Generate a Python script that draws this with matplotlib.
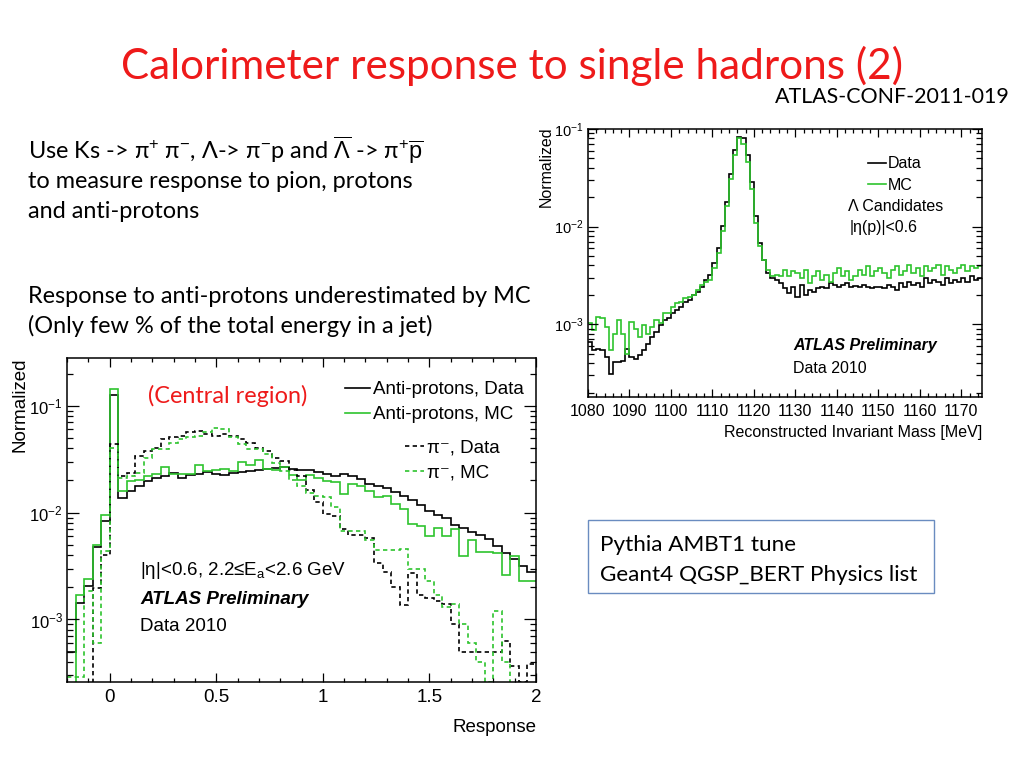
import numpy as np
import matplotlib
matplotlib.use("Agg")
import matplotlib.pyplot as plt
from matplotlib.lines import Line2D
from matplotlib.patches import Rectangle
from matplotlib.ticker import MultipleLocator, LogLocator, NullFormatter, FuncFormatter

plt.rcParams['font.family'] = ['Liberation Sans', 'DejaVu Sans']
plt.rcParams['mathtext.fontset'] = 'custom'
plt.rcParams['mathtext.rm'] = 'Liberation Sans'
plt.rcParams['mathtext.it'] = 'Liberation Sans:italic'
plt.rcParams['mathtext.bf'] = 'Liberation Sans:bold'

SLIDE_FONT = ['Lato', 'DejaVu Sans']
RED = '#ee1a1a'
GREEN = '#2ec42e'

# ---- left plot: response histograms, bins of 0.04 from -0.2 to 2.0 ----
resp_lo, resp_hi, resp_nbins = -0.2, 2.0, 55

pbar_data = [5.0e-4, 1.43e-3, 2.04e-3, 4.8e-3, 8.3e-3, 0.126, 0.0138, 0.0158, 0.0176, 0.0196,
             0.0211, 0.0219, 0.0235, 0.0211, 0.0227, 0.0232, 0.0239, 0.0232, 0.0227, 0.0235,
             0.0240, 0.0243, 0.0250, 0.0257, 0.0260, 0.0268, 0.0257, 0.0253, 0.0253, 0.0238,
             0.0228, 0.0222, 0.0228, 0.0218, 0.0205, 0.0186, 0.0179, 0.0169, 0.0157, 0.0144,
             0.0132, 0.0117, 0.0104, 0.0096, 0.0090, 0.0076, 0.0072, 0.0066, 0.0062, 0.0057,
             0.0049, 0.0042, 0.0037, 0.0032, 0.0028]

pbar_mc = [2.0e-4, 1.71e-3, 2.41e-3, 5.0e-3, 9.6e-3, 0.145, 0.0158, 0.0196, 0.0204, 0.0219,
           0.0232, 0.0268, 0.0232, 0.0232, 0.0232, 0.0282, 0.0244, 0.0250, 0.0257, 0.0244,
           0.0297, 0.0282, 0.0314, 0.0257, 0.0253, 0.0268, 0.0227, 0.0204, 0.0227, 0.0211,
           0.0199, 0.0192, 0.0149, 0.0185, 0.0179, 0.0160, 0.0139, 0.0144, 0.0120, 0.0107,
           0.0078, 0.0075, 0.0061, 0.0072, 0.0061, 0.0070, 0.0039, 0.0056, 0.0043, 0.0043,
           0.0042, 0.0026, 0.0039, 0.0023, 0.0023]

pion_data = [1e-4, 1e-4, 1e-4, 1.98e-3, 4.0e-3, 0.0437, 0.0219, 0.0235, 0.0338, 0.0377,
             0.0406, 0.0487, 0.0505, 0.0524, 0.0563, 0.0584, 0.0543, 0.0524, 0.0543, 0.0516,
             0.0487, 0.0453, 0.0406, 0.0377, 0.0326, 0.0304, 0.0253, 0.0219, 0.0164, 0.0125,
             0.0098, 0.0093, 0.0070, 0.0062, 0.0062, 0.0058, 0.0034, 0.0028, 0.0020, 0.00136,
             0.0027, 0.0017, 0.0016, 0.0015, 0.0014, 0.0009, 0.0005, 0.0005, 0.0005, 0.0005,
             0.0005, 0.00063, 0.00037, 0.00026, 0.00038]

pion_mc = [2.9e-4, 2.9e-4, 1.84e-3, 6.0e-4, 4.4e-3, 0.040, 0.0211, 0.0219, 0.0235, 0.0326,
           0.0391, 0.0391, 0.0453, 0.0487, 0.0505, 0.0524, 0.0563, 0.0614, 0.0605, 0.0505,
           0.0437, 0.0391, 0.0391, 0.0351, 0.0292, 0.0244, 0.0204, 0.0176, 0.0152, 0.0142,
           0.0139, 0.0112, 0.0067, 0.0067, 0.0067, 0.0056, 0.0045, 0.0045, 0.0045, 0.0046,
           0.0030, 0.0030, 0.0023, 0.0017, 0.0013, 0.0014, 0.0009, 0.0006, 0.0004, 0.00026,
           0.0012, 0.0004, 0.0002, 0.0002, 0.0002]

# ---- right plot: Lambda invariant mass, 1 MeV bins from 1080 ----
mass_lo, mass_nbins = 1080, 95

lambda_data = [6.6e-4, 5.4e-4, 5.6e-4, 5.4e-4, 4.6e-4, 3.1e-4, 4.1e-4, 4.1e-4, 4.2e-4, 5.6e-4,
               4.6e-4, 4.4e-4, 4.8e-4, 5.4e-4, 6.3e-4, 7.4e-4, 8.3e-4, 9.8e-4, 1.10e-3, 1.15e-3,
               1.29e-3, 1.40e-3, 1.51e-3, 1.70e-3, 1.77e-3, 2.0e-3, 2.16e-3, 2.43e-3, 2.85e-3, 3.21e-3,
               4.25e-3, 6.1e-3, 0.0102, 0.0177, 0.0348, 0.0606, 0.0834, 0.0800, 0.0538, 0.0285,
               0.0129, 6.8e-3, 4.6e-3, 3.34e-3, 2.97e-3, 2.85e-3, 2.64e-3, 2.34e-3, 2.08e-3, 2.43e-3,
               1.92e-3, 2.53e-3, 2.0e-3, 2.25e-3, 2.16e-3, 2.34e-3, 2.43e-3, 2.34e-3, 2.64e-3, 2.53e-3,
               2.43e-3, 2.53e-3, 2.64e-3, 2.43e-3, 2.47e-3, 2.39e-3, 2.53e-3, 2.43e-3, 2.34e-3, 2.43e-3,
               2.43e-3, 2.34e-3, 2.53e-3, 2.43e-3, 2.25e-3, 2.64e-3, 2.43e-3, 2.74e-3, 2.53e-3, 2.64e-3,
               2.43e-3, 2.97e-3, 2.64e-3, 2.85e-3, 2.74e-3, 2.53e-3, 2.97e-3, 2.64e-3, 2.85e-3, 2.74e-3,
               2.97e-3, 2.74e-3, 3.09e-3, 2.85e-3, 2.97e-3]

lambda_mc = [1.02e-3, 8.7e-4, 1.19e-3, 1.15e-3, 9.4e-4, 5.4e-4, 8.0e-4, 1.10e-3, 8.0e-4, 5.0e-4,
             1.06e-3, 9.0e-4, 7.4e-4, 9.8e-4, 8.0e-4, 9.4e-4, 1.10e-3, 1.02e-3, 1.29e-3, 1.29e-3,
             1.51e-3, 1.64e-3, 1.70e-3, 1.84e-3, 1.92e-3, 2.0e-3, 2.25e-3, 2.53e-3, 2.74e-3, 2.85e-3,
             3.77e-3, 5.4e-3, 9.0e-3, 0.0164, 0.0309, 0.0538, 0.0800, 0.0710, 0.0459, 0.0243,
             0.0110, 6.3e-3, 4.6e-3, 3.62e-3, 3.09e-3, 3.21e-3, 3.09e-3, 3.62e-3, 3.09e-3, 3.48e-3,
             3.34e-3, 2.97e-3, 3.62e-3, 2.64e-3, 3.09e-3, 3.48e-3, 2.85e-3, 3.21e-3, 2.74e-3, 3.34e-3,
             3.77e-3, 3.09e-3, 3.48e-3, 2.85e-3, 3.09e-3, 3.62e-3, 3.21e-3, 3.92e-3, 3.09e-3, 3.48e-3,
             3.77e-3, 3.34e-3, 2.97e-3, 3.62e-3, 3.92e-3, 3.21e-3, 3.48e-3, 4.07e-3, 3.34e-3, 3.77e-3,
             3.09e-3, 3.92e-3, 3.48e-3, 3.77e-3, 4.07e-3, 3.21e-3, 3.92e-3, 3.62e-3, 3.34e-3, 3.77e-3,
             4.07e-3, 3.48e-3, 3.92e-3, 3.77e-3, 3.92e-3]

# ---- slide text ----
title = "Calorimeter response to single hadrons (2)"
conf_note = "ATLAS-CONF-2011-019"
body_lines = ["Use Ks -> π$^{+}$ π$^{-}$, Λ-> π$^{-}$p and $\\overline{\\Lambda}$ -> π$^{+}$$\\overline{\\rm p}$",
              "to measure response to pion, protons",
              "and anti-protons",
              "Response to anti-protons underestimated by MC",
              "(Only few % of the total energy in a jet)"]
body_y = [150, 182, 212, 296, 326]
box_lines = ["Pythia AMBT1 tune", "Geant4 QGSP_BERT Physics list"]


fig = plt.figure(figsize=(10.24, 7.68), dpi=100)
renderer = fig.canvas.get_renderer()


def px(x, y):
    """pixel position on the slide -> figure fraction"""
    return x / 1024, 1 - y / 768


def fit_width(txt, width):
    """scale a text's font size so that it is about `width` pixels wide"""
    w = txt.get_window_extent(renderer=renderer).width
    txt.set_fontsize(txt.get_fontsize() * width / w)
    return txt.get_fontsize()


def root_style(ax, xfs, yfs, ymaj, ymin, xmaj, xmin):
    ax.set_yscale('log')
    ax.yaxis.set_major_locator(LogLocator(base=10, numticks=20))
    ax.yaxis.set_minor_locator(LogLocator(base=10, subs=np.arange(2, 10), numticks=20))
    ax.yaxis.set_minor_formatter(NullFormatter())
    ax.tick_params(which='both', direction='in', top=True, right=True, width=0.9)
    ax.tick_params(axis='y', which='major', length=ymaj, pad=3, labelsize=yfs)
    ax.tick_params(axis='y', which='minor', length=ymin)
    ax.tick_params(axis='x', which='major', length=xmaj, pad=5, labelsize=xfs)
    ax.tick_params(axis='x', which='minor', length=xmin)
    for s in ax.spines.values():
        s.set_linewidth(1.1)


# ---- title and notes ----
t = fig.text(*px(512, 66), title, color=RED, ha='center', va='center',
             family=SLIDE_FONT, fontsize=30)
fit_width(t, 783)
t = fig.text(*px(1010, 97), conf_note, color='black', ha='right', va='center',
             family=SLIDE_FONT, fontsize=16)
fit_width(t, 235)

body = [fig.text(*px(28, y), s, ha='left', va='center', family=SLIDE_FONT, fontsize=15)
        for s, y in zip(body_lines, body_y)]
fs_body = fit_width(body[3], 505)
for b in body:
    b.set_fontsize(fs_body)

fig.add_artist(Rectangle(px(588, 593), 346 / 1024, 73 / 768, transform=fig.transFigure,
                         fill=False, edgecolor='#6a8cc0', linewidth=1.0))
box = [fig.text(*px(600, y), s, ha='left', va='center', family=SLIDE_FONT, fontsize=15)
       for s, y in zip(box_lines, [545, 575])]
fs_box = fit_width(box[1], 318)
box[0].set_fontsize(fs_box)

# ---- left plot ----
ax1 = fig.add_axes([67 / 1024, 1 - 682 / 768, 469 / 1024, 324 / 768])
resp_edges = np.linspace(resp_lo, resp_hi, resp_nbins + 1)
dash = (0, (2.6, 2.0))
ax1.stairs(pbar_data, resp_edges, color='black', lw=1.2, baseline=None)
ax1.stairs(pbar_mc, resp_edges, color=GREEN, lw=1.2, baseline=None)
ax1.stairs(pion_data, resp_edges, color='black', lw=1.2, ls=dash, baseline=None)
ax1.stairs(pion_mc, resp_edges, color=GREEN, lw=1.2, ls=dash, baseline=None)
ax1.set_xlim(resp_lo, resp_hi)
root_style(ax1, 13.5, 12, 8.6, 4.5, 6.5, 3.2)
ax1.set_ylim(2.6e-4, 0.28)
ax1.xaxis.set_major_locator(MultipleLocator(0.5))
ax1.xaxis.set_minor_locator(MultipleLocator(0.1))
ax1.xaxis.set_major_formatter(FuncFormatter(lambda v, p: '%g' % v))
ax1.set_ylabel('Normalized', loc='top', fontsize=13.5)
ax1.yaxis.set_label_coords(-0.083, 1.0)
ax1.set_xlabel('Response', loc='right', fontsize=13.5)
ax1.xaxis.set_label_coords(1.0, -0.115)

leg1 = ax1.legend(handles=[Line2D([], [], color='black', lw=1.2), Line2D([], [], color=GREEN, lw=1.2)],
                  labels=['Anti-protons, Data', 'Anti-protons, MC'], loc='center left',
                  bbox_to_anchor=(0.593, 0.864), frameon=False, fontsize=13.5,
                  handlelength=1.33, handletextpad=0.16, labelspacing=0.42,
                  borderpad=0, borderaxespad=0)
ax1.add_artist(leg1)
ax1.legend(handles=[Line2D([], [], color='black', lw=1.2, ls=dash), Line2D([], [], color=GREEN, lw=1.2, ls=dash)],
           labels=['π⁻, Data', 'π⁻, MC'], loc='center left',
           bbox_to_anchor=(0.721, 0.683), frameon=False, fontsize=13.5,
           handlelength=1.0, handletextpad=0.16, labelspacing=0.42,
           borderpad=0, borderaxespad=0)

t = ax1.text(0.173, 0.883, '(Central region)', transform=ax1.transAxes, color=RED,
             ha='left', va='center', family=SLIDE_FONT, fontsize=15)
fit_width(t, 160)
ax1.text(0.156, 0.343, '|η|<0.6, 2.2≤E$_{\\rm a}$<2.6 GeV', transform=ax1.transAxes,
         ha='left', va='center', fontsize=13.5)
ax1.text(0.156, 0.256, 'ATLAS Preliminary', transform=ax1.transAxes, ha='left', va='center',
         fontsize=13.5, fontweight='bold', fontstyle='italic')
ax1.text(0.156, 0.170, 'Data 2010', transform=ax1.transAxes, ha='left', va='center', fontsize=13.5)

# ---- right plot ----
ax2 = fig.add_axes([588 / 1024, 1 - 397 / 768, 394 / 1024, 268 / 768])
mass_edges = np.arange(mass_nbins + 1) + mass_lo
ax2.stairs(lambda_data, mass_edges, color='black', lw=1.2, baseline=None)
ax2.stairs(lambda_mc, mass_edges, color=GREEN, lw=1.2, baseline=None)
ax2.set_xlim(mass_lo, mass_lo + mass_nbins)
root_style(ax2, 11.5, 10.5, 7.5, 4.0, 6.0, 3.0)
ax2.set_ylim(1.8e-4, 0.1)
ax2.xaxis.set_major_locator(MultipleLocator(10))
ax2.xaxis.set_minor_locator(MultipleLocator(2))
ax2.set_ylabel('Normalized', loc='top', fontsize=11.5)
ax2.yaxis.set_label_coords(-0.088, 1.01)
ax2.set_xlabel('Reconstructed Invariant Mass [MeV]', loc='right', fontsize=11.5)
ax2.xaxis.set_label_coords(1.0, -0.105)

ax2.legend(handles=[Line2D([], [], color='black', lw=1.2), Line2D([], [], color=GREEN, lw=1.2)],
           labels=['Data', 'MC'], loc='center left', bbox_to_anchor=(0.711, 0.830),
           frameon=False, fontsize=11.5, handlelength=1.1, handletextpad=0.1,
           labelspacing=0.4, borderpad=0, borderaxespad=0)
ax2.text(0.660, 0.709, 'Λ Candidates', transform=ax2.transAxes, ha='left', va='center', fontsize=11.5)
ax2.text(0.665, 0.631, '|η(p)|<0.6', transform=ax2.transAxes, ha='left', va='center', fontsize=11.5)
ax2.text(0.520, 0.194, 'ATLAS Preliminary', transform=ax2.transAxes, ha='left', va='center',
         fontsize=11.5, fontweight='bold', fontstyle='italic')
ax2.text(0.520, 0.108, 'Data 2010', transform=ax2.transAxes, ha='left', va='center', fontsize=11.5)

fig.savefig('out.png', dpi=100)
